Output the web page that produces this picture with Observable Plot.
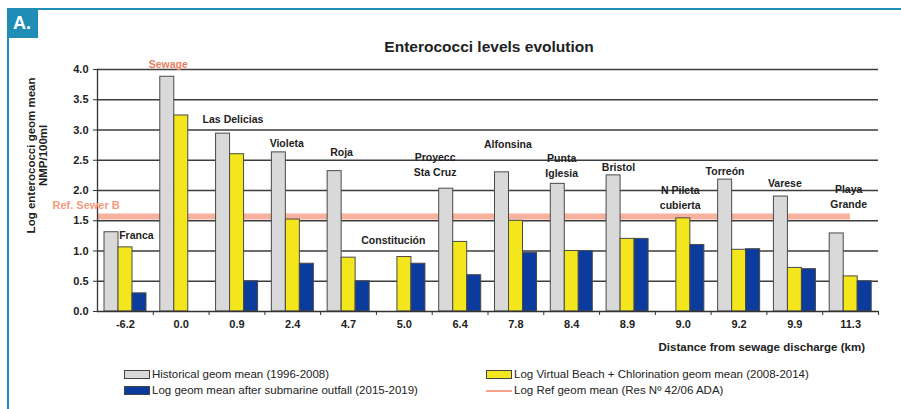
<!DOCTYPE html>
<html>
<head>
<meta charset="utf-8">
<script src="https://cdn.jsdelivr.net/npm/d3@7"></script>
<script src="https://cdn.jsdelivr.net/npm/@observablehq/plot@0.6"></script>
<style>
  body { margin: 0; background: #fff; }
  #wrap { position: relative; width: 901px; height: 409px; overflow: hidden; background: #fff;
          font-family: "Liberation Sans", Arial, sans-serif; color: #222; }
  #frame { position: absolute; left: 7px; top: 8px; width: 900px; height: 410px;
           border-top: 2px solid #1f8db5; border-left: 2px solid #1f8db5; box-sizing: border-box; }
  #badge { position: absolute; left: 7px; top: 8px; width: 31px; height: 30px; background: #1f8db5;
           color: #fff; font-weight: bold; font-size: 18px; line-height: 30px; text-indent: 6px; z-index: 2; }
  #title { position: absolute; left: 0; width: 978px; top: 38px; text-align: center;
           font-weight: bold; font-size: 15.5px; color: #222; }
  #xtitle { position: absolute; right: 36px; top: 341px; font-weight: bold; font-size: 11.5px; color: #222; }
  #chart { position: absolute; left: 0; top: 0; }
  .leg { position: absolute; font-size: 11.5px; color: #222; white-space: nowrap; line-height: 14px; }
  .sw { position: absolute; width: 26px; height: 9px; box-sizing: border-box; border: 1px solid #444; }
  .swl { position: absolute; width: 26px; height: 2px; }
</style>
</head>
<body>
<div id="wrap">
  <div id="frame"></div>
  <div id="chart"></div>
  <div id="badge">A.</div>
  <div id="title">Enterococci levels evolution</div>
  <div id="xtitle">Distance from sewage discharge (km)</div>
  <div id="legend"></div>
</div>
<script>
// ---- data ----
const distances = ["-6.2","0.0","0.9","2.4","4.7","5.0","6.4","7.8","8.4","8.9","9.0","9.2","9.9","11.3"];
const sites = ["Franca","Sewage","Las Delicias","Violeta","Roja","Constitución","Proyecc\nSta Cruz","Alfonsina","Punta\nIglesia","Bristol","N Pileta\ncubierta","Torreón","Varese","Playa\nGrande"];
const historical   = [1.31, 3.88, 2.94, 2.63, 2.32, null, 2.03, 2.30, 2.11, 2.25, null, 2.18, 1.90, 1.29];
const virtualBeach = [1.06, 3.24, 2.60, 1.52, 0.89, 0.90, 1.15, 1.50, 1.00, 1.20, 1.54, 1.02, 0.72, 0.58];
const outfall      = [0.30, null, 0.50, 0.79, 0.50, 0.79, 0.60, 0.97, 1.00, 1.20, 1.10, 1.03, 0.70, 0.50];
const refValue = 1.57;
const refLabel = "Ref. Sewer B";
const yTicks = [0, 0.5, 1, 1.5, 2, 2.5, 3, 3.5, 4];
const seriesNames = [
  "Historical geom mean (1996-2008)",
  "Log Virtual Beach + Chlorination geom mean (2008-2014)",
  "Log geom mean after submarine outfall (2015-2019)",
  "Log Ref geom mean (Res Nº 42/06 ADA)"
];
const yTitle = "Log enterococci geom mean\nNMP/100ml";
// annotation anchor (value level of each site name, data units)
const siteLabelLevel = [1.26, 4.08, 3.17, 2.78, 2.63, 1.17, 2.55, 2.76, 2.53, 2.38, 2.00, 2.31, 2.12, 2.02];

// ---- layout ----
const W = 901, H = 409, ML = 97, MR = 23, MT = 69, MB = 98;
const BW = (W - ML - MR) / distances.length;
const labelDx = [11, -13, -4, -6, -7, -11, -25, -8, -10, -9, -3, -14, -10, -2];
const C = { grey: "#d9d9d9", yellow: "#f3e61c", blue: "#0b3b9c", ref: "#f6a48e", line: "#3d3d3d" };

const rows = distances.map((d, i) => ({
  dist: d, site: sites[i], h: historical[i], v: virtualBeach[i], o: outfall[i], ly: siteLabelLevel[i]
}));

const barStyle = { stroke: "#4a4a4a", strokeWidth: 1 };

const chart = Plot.plot({
  width: W, height: H,
  marginLeft: ML, marginRight: MR, marginTop: MT, marginBottom: MB,
  style: { fontFamily: "Liberation Sans, Arial, sans-serif", background: "transparent", color: "#222", overflow: "visible" },
  x: { domain: distances, padding: 0, round: false, label: null },
  y: { domain: [0, 4], label: null },
  marks: [
    Plot.ruleY(yTicks.filter(t => t > 0), { stroke: C.line, strokeWidth: 1.3 }),
    Plot.ruleY([refValue], { stroke: C.ref, strokeWidth: 6, strokeOpacity: 0.85, insetRight: 28 }),
    Plot.barY(rows.filter(d => d.h != null), { x: "dist", y: "h", fill: C.grey, ...barStyle, insetLeft: 7, insetRight: BW - 21 }),
    Plot.barY(rows.filter(d => d.v != null), { x: "dist", y: "v", fill: C.yellow, ...barStyle, insetLeft: 21, insetRight: BW - 35 }),
    Plot.barY(rows.filter(d => d.o != null), { x: "dist", y: "o", fill: C.blue, ...barStyle, insetLeft: 35, insetRight: BW - 49 }),
    Plot.ruleY([0], { stroke: "#333", strokeWidth: 1.3 }),
    Plot.frame({ anchor: "left", stroke: "#333", strokeWidth: 1.3 }),
    Plot.axisY({ ticks: yTicks, tickFormat: d => d.toFixed(1), tickSize: 4, tickPadding: 5,
                 fontSize: 11, fontWeight: "bold", label: null, stroke: "#333" }),
    Plot.axisX({ tickSize: 0, tickPadding: 9, fontSize: 11, fontWeight: "bold", label: null }),
    Plot.ruleX(distances, { x: d => d, y1: 0, y2: 0, dx: BW / 2, insetBottom: -4, stroke: "#333" }),
    ...rows.map((r, i) => Plot.text([r], {
      x: "dist", y: "ly", text: "site", dx: labelDx[i], dy: -7,
      fontSize: 10.5, fontWeight: "bold", lineAnchor: "top", lineHeight: 1.43,
      fill: r.site === "Sewage" ? "#e8805f" : "#222"
    })),
    Plot.text([refLabel], { frameAnchor: "left", y: 1.75, text: d => d, textAnchor: "start", dx: -45,
                            fill: "#f39a82", fontSize: 11, fontWeight: "bold" }),
    Plot.text([yTitle], { frameAnchor: "left", y: 2.58, text: d => d, rotate: -90, dx: -60,
                          textAnchor: "middle", fontSize: 11.5, fontWeight: "bold", lineHeight: 1.0, fill: "#222" })
  ]
});
document.getElementById("chart").appendChild(chart);

// ---- legend ----
const legendItems = [
  { name: seriesNames[0], kind: "box", color: C.grey, left: 124, top: 370 },
  { name: seriesNames[1], kind: "box", color: C.yellow, left: 486, top: 370 },
  { name: seriesNames[2], kind: "box", color: C.blue, left: 124, top: 386 },
  { name: seriesNames[3], kind: "line", color: C.ref, left: 486, top: 386 }
];
const leg = document.getElementById("legend");
for (const it of legendItems) {
  const sw = document.createElement("div");
  if (it.kind === "box") {
    sw.className = "sw";
    sw.style.left = it.left + "px"; sw.style.top = it.top + "px"; sw.style.background = it.color;
  } else {
    sw.className = "swl";
    sw.style.left = it.left + "px"; sw.style.top = (it.top + 4) + "px"; sw.style.background = it.color;
  }
  leg.appendChild(sw);
  const t = document.createElement("div");
  t.className = "leg";
  t.style.left = (it.left + 28) + "px"; t.style.top = (it.top - 3) + "px";
  t.textContent = it.name;
  leg.appendChild(t);
}
</script>
</body>
</html>
